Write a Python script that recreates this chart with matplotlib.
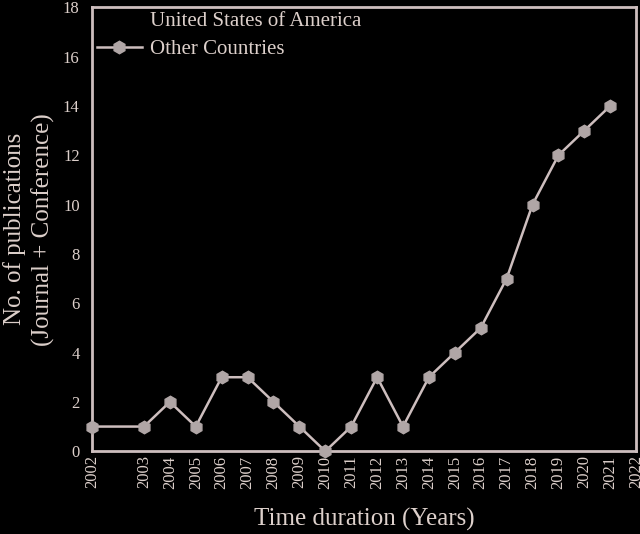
import matplotlib.pyplot as plt

# data
years = ['2002', '2003', '2004', '2005', '2006', '2007', '2008', '2009', '2010', '2011',
         '2012', '2013', '2014', '2015', '2016', '2017', '2018', '2019', '2020', '2021']
counts = [1, 1, 2, 1, 3, 3, 2, 1, 0, 1, 3, 1, 3, 4, 5, 7, 10, 12, 13, 14]
# the 2002 point sits on the left edge of the axis in the original
x_pos = [2001, 2003, 2004, 2005, 2006, 2007, 2008, 2009, 2010, 2011,
         2012, 2013, 2014, 2015, 2016, 2017, 2018, 2019, 2020, 2021]
tick_pos = [2001, 2003, 2004, 2005, 2006, 2007, 2008, 2009, 2010, 2011,
            2012, 2013, 2014, 2015, 2016, 2017, 2018, 2019, 2020, 2021, 2022]
tick_labels = ['2002', '2003', '2004', '2005', '2006', '2007', '2008', '2009', '2010', '2011',
               '2012', '2013', '2014', '2015', '2016', '2017', '2018', '2019', '2020', '2021', '2022']

txt = '#ddd0cb'
line_c = '#cdbebe'
mark_c = '#b0a6a6'

plt.rcParams['font.family'] = ['Liberation Serif', 'DejaVu Serif']

fig = plt.figure(figsize=(6.4, 5.34), dpi=100, facecolor='black')
ax = fig.add_axes([0.144, 0.155, 0.850, 0.8315], facecolor='black')

ax.plot([], [], color='black', lw=2, label='United States of America')
ax.plot(x_pos, counts, color=line_c, lw=1.8, marker='h', markersize=9,
        markerfacecolor=mark_c, markeredgecolor=mark_c, label='Other Countries',
        clip_on=False, zorder=3)

ax.set_xlim(2001, 2022)
ax.set_ylim(0, 18)
ax.set_yticks(range(0, 19, 2))
ax.set_xticks(tick_pos)
ax.set_xticklabels(tick_labels, rotation=90)

ax.tick_params(length=0, colors=txt, labelsize=12)
ax.tick_params(axis='x', pad=3)
ax.tick_params(axis='y', pad=9)
for s in ax.spines.values():
    s.set_color(line_c)
    s.set_linewidth(2)

ax.set_ylabel('No. of publications\n(Journal + Conference)', color=txt, fontsize=18,
              linespacing=1.3)
ax.yaxis.set_label_coords(-0.068, 0.5)
ax.set_xlabel('Time duration (Years)', color=txt, fontsize=18, labelpad=14)

leg = ax.legend(loc='upper left', frameon=False, fontsize=15, handlelength=2.2,
                borderaxespad=0.0, borderpad=0.0, labelspacing=0.4, handletextpad=0.35,
                bbox_to_anchor=(0.008, 0.99))
for t in leg.get_texts():
    t.set_color(txt)

fig.savefig('out.png', dpi=100, facecolor='black')
